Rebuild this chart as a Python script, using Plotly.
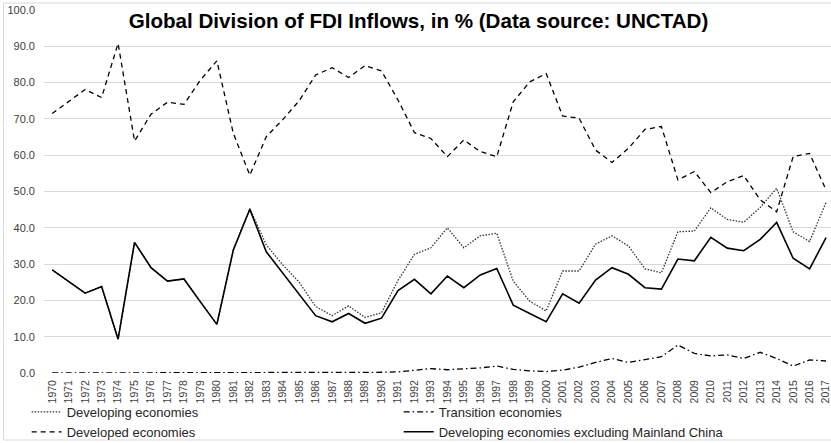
import plotly.graph_objects as go

# FDI inflow shares by economy group, in % of world total
years = list(range(1970, 2018))

developing = [28.4, 25.2, 22.0, 23.8, 9.3, 36.0, 29.0, 25.3, 25.9, 19.6,
              13.4, 34.0, 45.3, 35.3, 29.8, 25.0, 18.3, 15.8, 18.5, 15.3,
              16.6, 25.5, 32.7, 34.5, 40.0, 34.5, 37.8, 38.5, 25.3, 19.8,
              17.1, 28.1, 28.1, 35.5, 37.8, 35.0, 28.7, 27.6, 38.9, 39.1,
              45.5, 42.3, 41.5, 45.6, 50.9, 38.9, 36.2, 47.0]

transition = [0.0, 0.0, 0.0, 0.0, 0.0, 0.0, 0.0, 0.0, 0.0, 0.0,
              0.0, 0.0, 0.0, 0.0, 0.0, 0.0, 0.0, 0.0, 0.0, 0.1,
              0.2, 0.3, 0.8, 1.2, 0.9, 1.1, 1.4, 1.9, 1.0, 0.6,
              0.4, 0.8, 1.6, 2.9, 4.0, 2.9, 3.8, 4.5, 7.7, 5.4,
              4.7, 5.0, 4.0, 5.7, 4.0, 1.9, 3.6, 3.3]

developed = [71.5, 74.8, 78.1, 75.9, 90.8, 63.9, 71.3, 74.6, 74.0, 80.7,
             86.0, 66.0, 54.5, 65.1, 69.8, 75.0, 82.1, 84.1, 81.4, 84.7,
             83.2, 75.2, 66.2, 64.6, 59.6, 64.2, 61.0, 59.6, 74.7, 80.2,
             82.5, 70.8, 70.2, 61.4, 58.0, 61.9, 67.1, 67.9, 53.2, 55.5,
             49.7, 52.7, 54.4, 47.7, 44.4, 59.6, 60.5, 50.4]

developing_ex_china = [28.4, 25.2, 22.0, 23.8, 9.3, 36.0, 29.0, 25.3, 25.9, 19.6,
                       13.4, 33.9, 45.1, 33.4, 27.5, 21.6, 15.8, 14.1, 16.4, 13.7,
                       15.1, 22.7, 25.8, 21.8, 26.7, 23.5, 27.0, 28.8, 18.7, 16.4,
                       14.1, 21.8, 19.2, 25.6, 29.0, 27.2, 23.5, 23.1, 31.4, 30.9,
                       37.4, 34.4, 33.7, 36.8, 41.5, 31.6, 28.7, 37.3]

y_ticks = [0, 10, 20, 30, 40, 50, 60, 70, 80, 90, 100]

FONT = "Liberation Sans, Arial, sans-serif"

fig = go.Figure()
fig.add_trace(go.Scatter(x=years, y=developing, mode="lines",
                         name="Developing economies",
                         line=dict(color="#333333", width=1.3, dash="1.5px,1.5px")))
fig.add_trace(go.Scatter(x=years, y=transition, mode="lines",
                         name="Transition economies",
                         line=dict(color="#000000", width=1.3, dash="6px,3px,1.5px,3px")))
fig.add_trace(go.Scatter(x=years, y=developed, mode="lines",
                         name="Developed economies",
                         line=dict(color="#000000", width=1.3, dash="5px,4px")))
fig.add_trace(go.Scatter(x=years, y=developing_ex_china, mode="lines",
                         name="Developing economies excluding Mainland China",
                         line=dict(color="#000000", width=1.6)))

# outer chart frame
fig.add_shape(type="rect", xref="paper", yref="paper",
              x0=-0.0514, x1=1.02, y0=-0.1846, y1=1.0193,
              line=dict(color="#d9d9d9", width=1), fillcolor="rgba(0,0,0,0)",
              layer="below")

fig.update_layout(
    width=831, height=443,
    margin=dict(l=43.5, r=0, t=10, b=70, autoexpand=False),
    paper_bgcolor="white", plot_bgcolor="white",
    font=dict(family=FONT, color="#262626"),
    title=dict(text="<b>Global Division of FDI Inflows, in % (Data source: UNCTAD)</b>",
               font=dict(family=FONT, size=20.6, color="#000000"),
               x=418.5 / 831, xanchor="center", xref="container",
               y=1 - 21 / 443, yanchor="middle", yref="container"),
    xaxis=dict(range=[1969.5, 2017.3], tickmode="array", tickvals=years,
               ticktext=[str(y) for y in years], tickangle=-90,
               showgrid=False, zeroline=False, showline=False,
               ticks="", ticklabelstandoff=4, automargin=False,
               ticklabeloverflow="allow",
               tickfont=dict(family=FONT, size=10.5, color="#404040")),
    yaxis=dict(range=[0, 100], tickvals=y_ticks,
               ticktext=[f"{v:.1f}" for v in y_ticks],
               showgrid=True, gridcolor="#d9d9d9", gridwidth=1,
               zeroline=False, showline=False, ticks="",
               ticklabelstandoff=8, automargin=False,
               tickfont=dict(family=FONT, size=11, color="#404040")),
    showlegend=True,
    legend=dict(orientation="h", x=-0.022, xanchor="left",
                y=-0.066, yanchor="top", entrywidth=327, entrywidthmode="pixels",
                font=dict(family=FONT, size=13, color="#262626"),
                bgcolor="rgba(0,0,0,0)", tracegroupgap=0),
)

fig.write_html("out.html")
